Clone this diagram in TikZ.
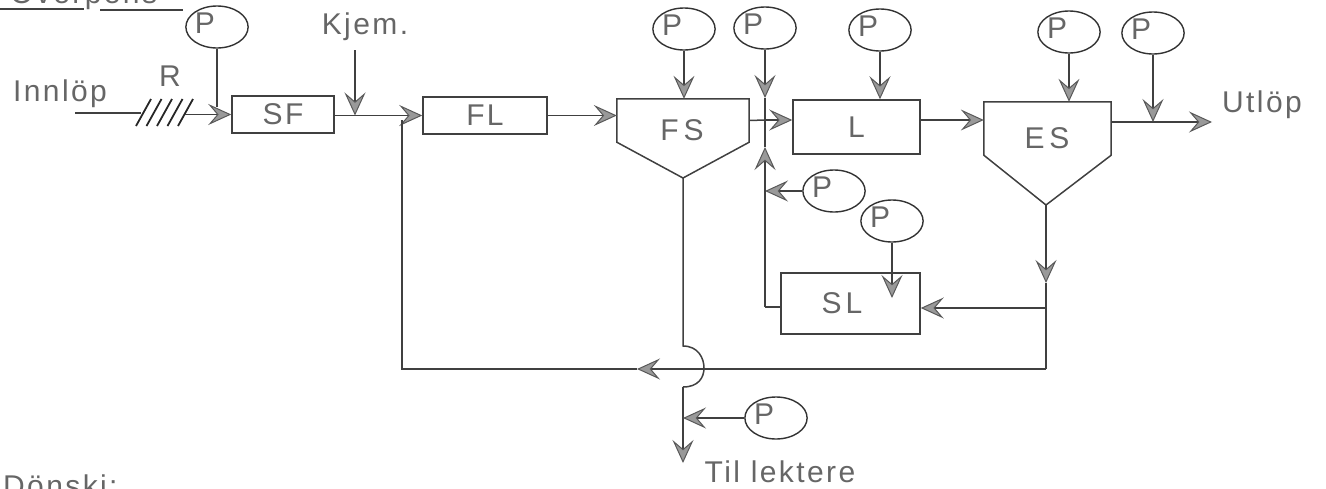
\documentclass[tikz,border=0pt]{standalone}
\usepackage{fontspec}
\usepackage{tikz}
\usetikzlibrary{arrows.meta,shapes.geometric}
\newfontfamily\labelfont[LetterSpace=8]{Liberation Sans}
\newcommand{\pumpP}{\raisebox{7pt}{P}\rule{24pt}{0pt}}
\tikzset{
  lbl/.style={font=\labelfont\fontsize{30}{32}\selectfont,text=black!60,inner sep=0pt},
  pump/.style={ellipse,draw=black!80,line width=1.4pt,minimum width=62pt,minimum height=42pt,inner sep=0pt,lbl},
  tank/.style={rectangle,draw=black!75,line width=1.5pt,inner sep=0pt,lbl},
  hopper/.style={rectangle,inner sep=0pt,lbl},
  pipe/.style={draw=black!75,line width=1.5pt},
  flow/.style={pipe,-{Stealth[length=23pt,width=21pt,inset=9pt,fill=black!40,color=black!65,line width=1pt]}}
}
\begin{document}
\begin{tikzpicture}[x=1pt,y=-1pt]
\clip (0,0) rectangle (1326,488);
\node[lbl,anchor=base west] (head) at (10,3) {Overpens};
\draw[pipe,line width=2pt] (0,8.5) -- (84,8.5);
\draw[pipe,line width=2pt] (100,9.5) -- (183,9.5);
\node[lbl,anchor=base west] (dansk) at (3,496) {Dönski:};

\node[tank,minimum width=102pt,minimum height=37pt] (sf) at (283,114.5) {SF};
\node[tank,minimum width=124pt,minimum height=37pt] (fl) at (485,115.5) {FL};
\node[tank,minimum width=127pt,minimum height=54pt] (l) at (856.5,127) {L};
\node[tank,minimum width=139pt,minimum height=61pt] (sl) at (850.5,303.5) {};
\node[lbl] (sltxt) at (842,303) {S\kern4pt L};

\node[hopper,minimum width=132pt,minimum height=43pt] (fs) at (683,120.5) {};
\node[lbl] (fstxt) at (682,130) {F\kern5pt S};
\coordinate (fstip) at (683,178);
\draw[pipe] (fs.north west) -- (fs.north east) -- (fs.south east) -- (fstip) -- (fs.south west) -- cycle;
\node[hopper,minimum width=127pt,minimum height=53pt] (es) at (1047.5,128.5) {};
\node[lbl] (estxt) at (1047,138) {E\kern5pt S};
\coordinate (estip) at (1046,205);
\draw[pipe] (es.north west) -- (es.north east) -- (es.south east) -- (estip) -- (es.south west) -- cycle;

\node[pump] (pa) at (217,27) {\pumpP};
\node[pump] (pb) at (684,29) {\pumpP};
\node[pump] (pc) at (765,28) {\pumpP};
\node[pump] (pd) at (834,191) {\pumpP};
\node[pump] (pe) at (892,221) {\pumpP};
\node[pump] (pf) at (880,30) {\pumpP};
\node[pump] (pg) at (1069,32) {\pumpP};
\node[pump] (ph) at (1153,33) {\pumpP};
\node[pump] (pi) at (776,418) {\pumpP};

\node[lbl] (innlop) at (60,94) {Innlöp};
\node[lbl] (rr) at (170,76) {R};
\node[lbl] (kjem) at (365,27) {Kjem.};
\node[lbl] (utlop) at (1262,105) {Utlöp};
\node[lbl] (lekt) at (780,472) {Til lektere};

\coordinate (inn) at (75,113);
\coordinate (hsa) at (141,113);
\coordinate (hsb) at (185,114.5);
\coordinate (kj) at (355,50);
\coordinate (kjb) at (355,115.5);
\coordinate (jn) at (765,120);
\coordinate (riser) at (765,147);
\coordinate (pctip) at (765,98);
\coordinate (slout) at (765,307);
\coordinate (esdrop) at (1046,283);
\coordinate (esbr) at (1046,308);
\coordinate (rcb) at (1046,369);
\coordinate (rctip) at (637,369);
\coordinate (rca) at (402,369);
\coordinate (rcup) at (402,120);
\coordinate (bra) at (683,346);
\coordinate (brm) at (704,368);
\coordinate (brb) at (683,387);
\coordinate (sludge) at (683,463);
\coordinate (paend) at (217,107);
\coordinate (utend) at (1212,122);

\draw[pipe] (inn) -- (hsa);
\foreach \hx in {136,146.5,157,167.5,178}
  \draw[pipe,line width=1.8pt,draw=black!85] (\hx,126) -- ++(15,-27);
\draw[flow] (hsb) -- (sf.west);
\draw[pipe] (pa) -- (paend);
\draw[flow] (sf.east |- fl.west) -- (fl.west);
\draw[flow] (kj) -- (kjb);
\draw[flow] (fl.east) -- (fs.west |- fl.east);
\draw[flow] (pb) -- (pb |- fs.north);
\draw[pipe] (fs.east) -- (jn);
\draw[flow] (jn) -- (l.west |- jn);
\draw[flow] (pc) -- (pctip);
\draw[pipe] (pctip) -- (jn);
\draw[flow] (pf) -- (pf |- l.north);
\draw[flow] (l.east |- jn) -- (es.west |- jn);
\draw[flow] (pg) -- (pg |- es.north);
\draw[flow] (es.east |- utend) -- (utend);
\draw[flow] (ph) -- (ph |- utend);
\draw[flow] (pd) -- (riser |- pd);
\draw[flow] (pe) -- (892,298);
\draw[pipe] (sl.west |- slout) -- (slout);
\draw[flow] (slout) -- (riser);
\draw[pipe] (riser) -- (jn);
\draw[flow] (estip) -- (esdrop);
\draw[pipe] (esdrop) -- (rcb);
\draw[flow] (esbr) -- (sl.east |- esbr);
\draw[flow] (rcb) -- (rctip);
\draw[pipe] (rctip) -- (rca) -- (rcup);
\draw[pipe] (fstip) -- (bra) .. controls (698,346) and (704,358) .. (brm) .. controls (704,378) and (698,387) .. (brb);
\draw[flow] (brb) -- (sludge);
\draw[flow] (pi) -- (brb |- pi);
\end{tikzpicture}
\end{document}
